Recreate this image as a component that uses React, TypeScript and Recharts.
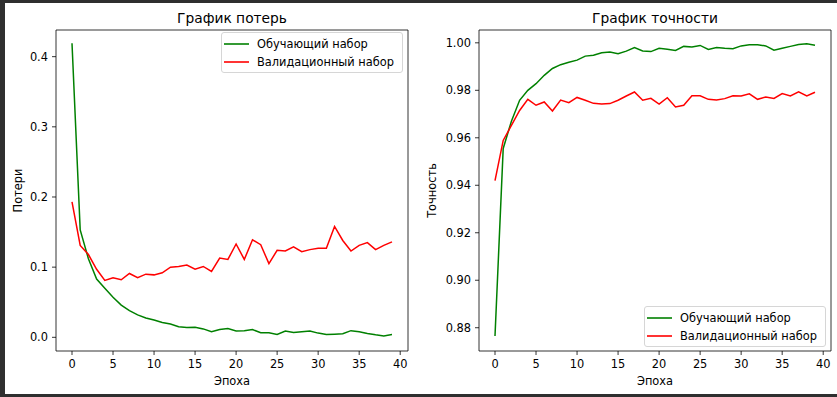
import {
  LineChart,
  Line,
  XAxis,
  YAxis,
  ReferenceArea,
  Legend,
} from "recharts";

const epochs = [
  0, 1, 2, 3, 4, 5, 6, 7, 8, 9, 10, 11, 12, 13, 14, 15, 16, 17, 18, 19,
  20, 21, 22, 23, 24, 25, 26, 27, 28, 29, 30, 31, 32, 33, 34, 35, 36, 37, 38, 39,
];

const trainLoss = [
  0.419, 0.153, 0.112, 0.083, 0.07, 0.057, 0.046, 0.038, 0.032, 0.0275,
  0.0247, 0.021, 0.019, 0.015, 0.014, 0.0145, 0.012, 0.008, 0.011, 0.0125,
  0.009, 0.0095, 0.011, 0.0065, 0.0065, 0.004, 0.009, 0.007, 0.008, 0.009,
  0.006, 0.004, 0.0045, 0.005, 0.0095, 0.008, 0.0055, 0.0035, 0.002, 0.004,
];

const valLoss = [
  0.193, 0.131, 0.118, 0.097, 0.081, 0.085, 0.082, 0.091, 0.085, 0.09,
  0.089, 0.092, 0.1, 0.101, 0.103, 0.097, 0.101, 0.094, 0.113, 0.111,
  0.133, 0.111, 0.139, 0.132, 0.105, 0.124, 0.123, 0.129, 0.122, 0.125,
  0.127, 0.127, 0.158, 0.138, 0.123, 0.131, 0.135, 0.125, 0.131, 0.136,
];

const trainAcc = [
  0.8765, 0.9555, 0.967, 0.9758, 0.98, 0.9828, 0.9863, 0.9892, 0.9908, 0.9918,
  0.9927, 0.9944, 0.9948, 0.9958, 0.9961, 0.9954, 0.9965, 0.998, 0.9966, 0.9963,
  0.9977, 0.9973, 0.9968, 0.9985, 0.9982, 0.9989, 0.9972, 0.998, 0.9977, 0.9975,
  0.9987, 0.9992, 0.9992, 0.9987, 0.9969, 0.9977, 0.9985, 0.9993, 0.9996, 0.999,
];

const valAcc = [
  0.942, 0.9589, 0.9652, 0.9715, 0.9762, 0.9737, 0.9751, 0.9713, 0.9759, 0.9748,
  0.977, 0.9758, 0.9745, 0.9742, 0.9744, 0.9758, 0.9776, 0.9793, 0.9758, 0.9766,
  0.9742, 0.9769, 0.973, 0.9737, 0.9777, 0.9777, 0.9762, 0.9759, 0.9765, 0.9777,
  0.9776, 0.9785, 0.9762, 0.9772, 0.9766, 0.9786, 0.9776, 0.9794, 0.9776, 0.9792,
];

const xTicks = [0, 5, 10, 15, 20, 25, 30, 35, 40];
const lossTicks = [0, 0.1, 0.2, 0.3, 0.4];
const accTicks = [0.88, 0.9, 0.92, 0.94, 0.96, 0.98, 1.0];

const seriesNames = ["Обучающий набор", "Валидационный набор"];

const lossData = epochs.map((epoch, i) => ({
  epoch,
  train: trainLoss[i],
  val: valLoss[i],
}));

const accData = epochs.map((epoch, i) => ({
  epoch,
  train: trainAcc[i],
  val: valAcc[i],
}));

const FONT = "'DejaVu Sans', sans-serif";
const X_DOMAIN: [number, number] = [-1.95, 40.95];
const LOSS_DOMAIN: [number, number] = [-0.0195, 0.438];
const ACC_DOMAIN: [number, number] = [0.8702, 1.0054];

const tickStyle = { fill: "#000", fontSize: 11.4, fontFamily: FONT };

// matplotlib-like legend box, keeps the plotting order of the series
const MplLegend = ({ payload }: any) => {
  const items = [...(payload || [])].sort(
    (a: any, b: any) => seriesNames.indexOf(a.value) - seriesNames.indexOf(b.value)
  );
  return (
    <div
      style={{
        width: 182,
        height: 41,
        boxSizing: "border-box",
        border: "1px solid #d6d6d6",
        borderRadius: 3,
        background: "rgba(255,255,255,0.8)",
        paddingTop: 1.5,
        fontFamily: FONT,
        fontSize: 11.4,
        color: "#000",
      }}
    >
      {items.map((entry: any) => (
        <div
          key={entry.value}
          style={{ display: "flex", alignItems: "center", height: 18 }}
        >
          <svg width={25} height={4} style={{ marginLeft: 2 }}>
            <line x1={0} y1={2} x2={25} y2={2} stroke={entry.color} strokeWidth={1.6} />
          </svg>
          <span style={{ marginLeft: 8, whiteSpace: "nowrap" }}>{entry.value}</span>
        </div>
      ))}
    </div>
  );
};

type PanelProps = {
  data: { epoch: number; train: number; val: number }[];
  yDomain: [number, number];
  yTicks: number[];
  yDigits: number;
  yAxisWidth: number;
  rightMargin: number;
  legendPos: { left: number; top: number };
};

const Panel = ({ data, yDomain, yTicks, yDigits, yAxisWidth, rightMargin, legendPos }: PanelProps) => (
  <LineChart
    width={420}
    height={397}
    data={data}
    margin={{ top: 30, right: rightMargin, bottom: 16, left: 0 }}
  >
    <XAxis
      dataKey="epoch"
      type="number"
      domain={X_DOMAIN}
      ticks={xTicks}
      allowDataOverflow
      axisLine={false}
      tickSize={4}
      tickMargin={5}
      height={30}
      tickLine={{ stroke: "#000", strokeWidth: 0.8 }}
      tick={tickStyle}
    />
    <YAxis
      type="number"
      domain={yDomain}
      ticks={yTicks}
      allowDataOverflow
      axisLine={false}
      tickSize={4}
      tickMargin={4}
      width={yAxisWidth}
      tickLine={{ stroke: "#000", strokeWidth: 0.8 }}
      tick={tickStyle}
      tickFormatter={(v: number) => v.toFixed(yDigits)}
    />
    <ReferenceArea
      x1={X_DOMAIN[0]}
      x2={X_DOMAIN[1]}
      y1={yDomain[0]}
      y2={yDomain[1]}
      fill="none"
      stroke="#000"
      strokeWidth={0.8}
    />
    <Line
      dataKey="train"
      name={seriesNames[0]}
      stroke="#008000"
      strokeWidth={1.5}
      dot={false}
      type="linear"
      isAnimationActive={false}
    />
    <Line
      dataKey="val"
      name={seriesNames[1]}
      stroke="#ff0000"
      strokeWidth={1.5}
      dot={false}
      type="linear"
      isAnimationActive={false}
    />
    <Legend
      layout="horizontal"
      align="center"
      verticalAlign="middle"
      wrapperStyle={{ left: legendPos.left, top: legendPos.top, width: 182 }}
      content={MplLegend}
    />
  </LineChart>
);

export default function App() {
  return (
    <div
      style={{
        position: "absolute",
        left: 0,
        top: 0,
        width: 837,
        height: 397,
        background: "#2f2f2f",
        overflow: "hidden",
      }}
    >
      <div
        style={{
          position: "absolute",
          left: 5,
          top: 3,
          width: 832,
          height: 391,
          background: "#fff",
        }}
      />
      <div style={{ position: "absolute", left: 0, top: 0 }}>
        <Panel
          data={lossData}
          yDomain={LOSS_DOMAIN}
          yTicks={lossTicks}
          yDigits={1}
          yAxisWidth={56}
          rightMargin={12}
          legendPos={{ left: 221, top: 32 }}
        />
      </div>
      <div style={{ position: "absolute", left: 417, top: 0 }}>
        <Panel
          data={accData}
          yDomain={ACC_DOMAIN}
          yTicks={accTicks}
          yDigits={2}
          yAxisWidth={62}
          rightMargin={6}
          legendPos={{ left: 227, top: 306 }}
        />
      </div>
      <svg
        width={837}
        height={397}
        style={{ position: "absolute", left: 0, top: 0, pointerEvents: "none" }}
        fontFamily={FONT}
        fill="#000"
      >
        <text x={232} y={23} textAnchor="middle" fontSize={13.8}>
          График потерь
        </text>
        <text x={655} y={23} textAnchor="middle" fontSize={13.8}>
          График точности
        </text>
        <text x={232} y={385} textAnchor="middle" fontSize={11.4}>
          Эпоха
        </text>
        <text x={655} y={385} textAnchor="middle" fontSize={11.4}>
          Эпоха
        </text>
        <text x={22} y={190.5} textAnchor="middle" fontSize={11.4} transform="rotate(-90 22 190.5)">
          Потери
        </text>
        <text x={436} y={190.5} textAnchor="middle" fontSize={11.4} transform="rotate(-90 436 190.5)">
          Точность
        </text>
      </svg>
    </div>
  );
}
